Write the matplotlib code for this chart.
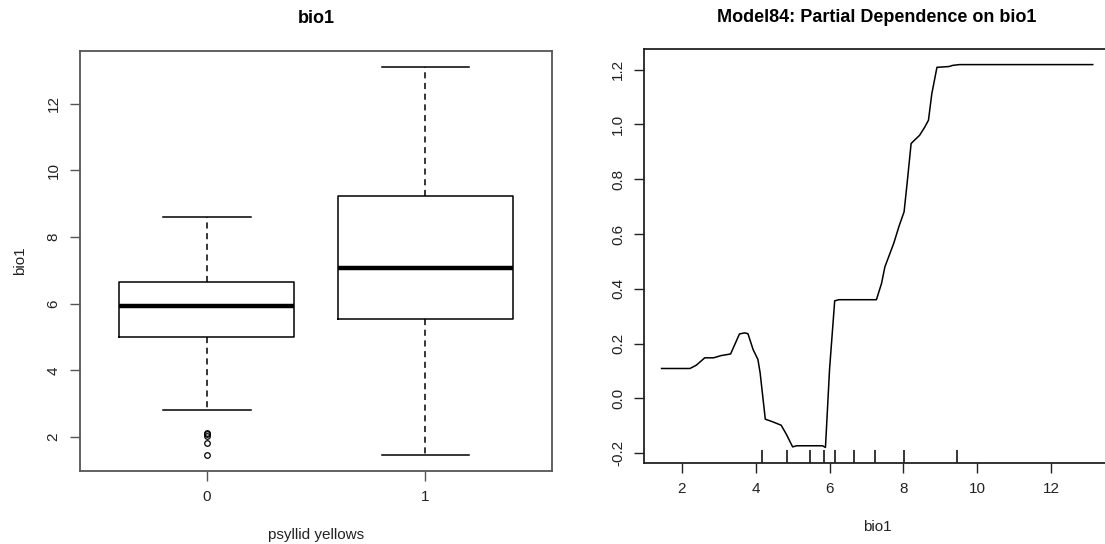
import matplotlib
matplotlib.use("Agg")
import matplotlib.pyplot as plt

plt.rcParams['font.family'] = ['Liberation Sans', 'DejaVu Sans']

# left panel: boxplot of bio1 by psyllid yellows
groups = ['0', '1']
box_low = [2.80, 1.47]
box_q1 = [5.01, 5.53]
box_med = [5.93, 7.06]
box_q3 = [6.64, 9.23]
box_high = [8.60, 13.11]
outliers = [[2.11, 2.08, 2.04, 1.83, 1.46], []]

# right panel: partial dependence curve
pd_x = [1.45, 2.22, 2.39, 2.62, 2.86, 3.06, 3.32, 3.56, 3.70, 3.79, 3.93,
        4.06, 4.12, 4.26, 4.45, 4.69, 4.83, 5.00, 5.11, 5.81, 5.89, 6.00,
        6.14, 6.25, 7.27, 7.41, 7.50, 7.74, 7.88, 8.02, 8.11, 8.21, 8.30,
        8.44, 8.58, 8.68, 8.77, 8.91, 9.24, 9.33, 9.52, 13.13]
pd_y = [0.109, 0.109, 0.121, 0.148, 0.148, 0.156, 0.162, 0.235, 0.239,
        0.236, 0.178, 0.142, 0.093, -0.076, -0.085, -0.098, -0.131, -0.177,
        -0.173, -0.173, -0.179, 0.105, 0.356, 0.360, 0.360, 0.420, 0.480,
        0.566, 0.627, 0.681, 0.796, 0.930, 0.942, 0.960, 0.990, 1.015,
        1.111, 1.208, 1.211, 1.215, 1.218, 1.218]
deciles = [4.17, 4.85, 5.46, 5.84, 6.16, 6.66, 7.23, 8.03, 9.45]

fig = plt.figure(figsize=(11.05, 5.44), dpi=100)
ax1 = fig.add_axes([0.0724, 0.1347, 0.4274, 0.7716])
ax2 = fig.add_axes([0.5831, 0.1494, 0.4214, 0.7600])

frame_col = '#555555'

# ---- boxplot ----
stats = []
for i in range(len(groups)):
    stats.append({'whislo': box_low[i], 'q1': box_q1[i], 'med': box_med[i],
                  'q3': box_q3[i], 'whishi': box_high[i], 'fliers': outliers[i]})

ax1.bxp(stats, positions=[1, 2], widths=0.8, showfliers=True,
        boxprops=dict(color='black', linewidth=1.1),
        medianprops=dict(color='black', linewidth=3.2, solid_capstyle='butt'),
        whiskerprops=dict(color='black', linewidth=1.1, linestyle=(0, (4, 3))),
        capprops=dict(color='black', linewidth=1.1),
        capwidths=0.4,
        flierprops=dict(marker='o', markersize=4, markerfacecolor='none',
                        markeredgecolor='black', markeredgewidth=0.9))

all_vals = box_low + box_high + [v for o in outliers for v in o]
lo, hi = min(all_vals), max(all_vals)
ext = (hi - lo) * 0.04
ax1.set_ylim(lo - ext, hi + ext)
ax1.set_xlim(0.42, 2.58)
ax1.set_xticks([1, 2])
ax1.set_xticklabels(groups)
ax1.set_yticks([2, 4, 6, 8, 10, 12])
ax1.set_title('bio1', fontsize=13, fontweight='bold', pad=20)
ax1.set_xlabel('psyllid yellows', fontsize=11, color='#222222', labelpad=17)
ax1.set_ylabel('bio1', fontsize=11, color='#222222', labelpad=14)

# ---- partial dependence ----
ax2.plot(pd_x, pd_y, color='black', linewidth=1.1)
xext = (max(pd_x) - min(pd_x)) * 0.04
yext = (max(pd_y) - min(pd_y)) * 0.04
ax2.set_xlim(min(pd_x) - xext, max(pd_x) + xext)
ax2.set_ylim(min(pd_y) - yext, max(pd_y) + yext)
rug_top = min(pd_y) - yext + 0.03 * (max(pd_y) - min(pd_y) + 2 * yext)
ax2.vlines(deciles, min(pd_y) - yext, rug_top, color='black', linewidth=1.1)
ax2.set_xticks([2, 4, 6, 8, 10, 12])
ax2.set_yticks([-0.2, 0.0, 0.2, 0.4, 0.6, 0.8, 1.0, 1.2])
ax2.set_yticklabels(['-0.2', '0.0', '0.2', '0.4', '0.6', '0.8', '1.0', '1.2'])
ax2.set_title('Model84: Partial Dependence on bio1', fontsize=13,
              fontweight='bold', pad=20)
ax2.set_xlabel('bio1', fontsize=11, color='#222222', labelpad=17)

for ax, col in [(ax1, frame_col), (ax2, '#222222')]:
    for s in ax.spines.values():
        s.set_color(col)
        s.set_linewidth(1.3)
    ax.tick_params(axis='both', length=7, width=1.0, color=col,
                   labelsize=11, labelcolor='#222222', pad=7)
    for lab in ax.get_yticklabels():
        lab.set_rotation(90)
        lab.set_va('center')

fig.savefig('out.png', dpi=100)
